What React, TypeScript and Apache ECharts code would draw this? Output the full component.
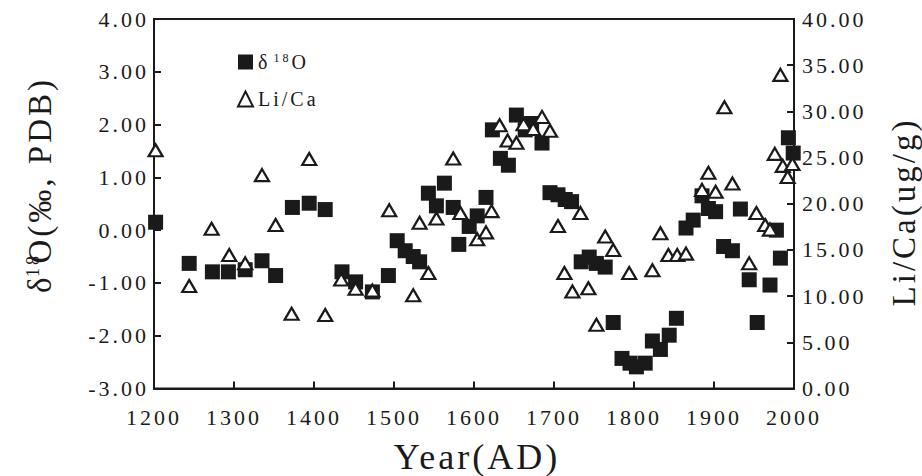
import React, { useEffect, useRef } from "react";
import * as echarts from "echarts";

// δ18O (left axis)
const o18Years = [
  1202, 1244, 1273, 1293, 1314, 1335, 1352, 1373, 1394, 1414, 1435, 1452, 1473,
  1493, 1504, 1514, 1524, 1532, 1543, 1553, 1563, 1574, 1581, 1594, 1604, 1615,
  1623, 1633, 1643, 1653, 1664, 1672, 1685, 1695, 1705, 1714, 1722, 1734, 1744,
  1753, 1764, 1774, 1785, 1795, 1803, 1814, 1823, 1833, 1844, 1853, 1865, 1874,
  1885, 1893, 1902, 1912, 1923, 1933, 1944, 1954, 1970, 1978, 1983, 1993, 1999,
];
const o18Values = [
  0.15, -0.63, -0.79, -0.79, -0.75, -0.58, -0.86, 0.43, 0.51, 0.39, -0.79, -0.98,
  -1.17, -0.86, -0.2, -0.39, -0.5, -0.6, 0.7, 0.46, 0.89, 0.43, -0.27, 0.07, 0.27,
  0.62, 1.9, 1.36, 1.23, 2.18, 1.9, 2.02, 1.65, 0.71, 0.67, 0.58, 0.54, -0.6,
  -0.51, -0.63, -0.7, -1.75, -2.43, -2.52, -2.59, -2.52, -2.1, -2.26, -1.99,
  -1.67, 0.04, 0.19, 0.65, 0.41, 0.35, -0.31, -0.39, 0.4, -0.94, -1.75, -1.04,
  0.0, -0.53, 1.75, 1.46,
];

// Li/Ca (right axis)
const liYears = [
  1202, 1244, 1272, 1294, 1314, 1335, 1352, 1372, 1394, 1414, 1434, 1452, 1473,
  1494, 1524, 1532, 1543, 1553, 1574, 1583, 1604, 1615, 1622, 1632, 1642, 1653,
  1662, 1674, 1685, 1695, 1705, 1713, 1723, 1733, 1743, 1753, 1764, 1774, 1794,
  1823, 1833, 1843, 1854, 1865, 1885, 1893, 1902, 1913, 1923, 1944, 1953, 1964,
  1970, 1976, 1983, 1986, 1992, 1998,
];
const liValues = [
  25.8, 11.1, 17.3, 14.45, 13.55, 23.1, 17.7, 8.1, 24.85, 7.95, 11.8, 10.8, 10.6,
  19.3, 10.1, 17.95, 12.5, 18.4, 24.9, 19.0, 16.15, 16.9, 19.2, 28.5, 26.85,
  26.6, 28.6, 28.1, 29.4, 27.9, 17.6, 12.5, 10.5, 19.0, 10.85, 6.9, 16.45, 15.0,
  12.5, 12.8, 16.8, 14.45, 14.45, 14.6, 21.5, 23.35, 21.3, 30.45, 22.2, 13.55,
  19.0, 17.7, 17.2, 25.4, 33.95, 24.1, 22.9, 24.3,
];

const X_MIN = 1200;
const X_MAX = 2000;
const X_STEP = 100;
const L_MIN = -3;
const L_MAX = 4;
const L_STEP = 1;
const R_MIN = 0;
const R_MAX = 40;
const R_STEP = 5;

const SERIES_O18 = "δ18O";
const SERIES_LI = "Li/Ca";
const X_TITLE = "Year(AD)";
const L_TITLE = "δ{sup|18}{o|O(‰, PDB)}";
const R_TITLE = "Li/Ca(ug/g)";

const INK = "#1a1a1a";
const FONT = "Liberation Serif";

export default function App() {
  const ref = useRef<HTMLDivElement>(null);

  useEffect(() => {
    if (!ref.current) return;
    const chart = echarts.init(ref.current, undefined, { renderer: "svg" });
    const o18Data = o18Years.map((y, i) => [y, o18Values[i]]);
    const liData = liYears.map((y, i) => [y, liValues[i]]);

    const axisCommon = {
      axisLine: { show: true, onZero: false, lineStyle: { color: INK, width: 2 } },
      axisTick: { show: true, inside: true, length: 7, lineStyle: { color: INK, width: 2 } },
      splitLine: { show: false },
    };

    chart.setOption({
      animation: false,
      backgroundColor: "#ffffff",
      grid: {
        left: 154,
        right: 128,
        top: 19,
        bottom: 87.5,
        show: true,
        borderColor: INK,
        borderWidth: 2,
        backgroundColor: "transparent",
        containLabel: false,
        outerBoundsMode: "none",
      },
      legend: {
        orient: "vertical",
        left: 232,
        top: 47,
        itemWidth: 15,
        itemHeight: 15,
        itemGap: 17,
        data: [SERIES_O18, SERIES_LI],
        formatter: (n: string) => (n === SERIES_O18 ? "δ{sup|18}{o|O}" : n),
        textStyle: {
          fontFamily: FONT,
          fontSize: 20,
          color: INK,
          rich: {
            sup: {
              fontFamily: FONT,
              fontSize: 12,
              color: INK,
              verticalAlign: "top",
              padding: [0, 0, 0, 6],
            },
            o: { fontFamily: FONT, fontSize: 20, color: INK, padding: [0, 0, 0, 6] },
          },
        },
      },
      xAxis: {
        type: "value",
        min: X_MIN,
        max: X_MAX,
        interval: X_STEP,
        ...axisCommon,
        axisLabel: {
          margin: 18,
          fontSize: 22,
          fontFamily: FONT,
          color: INK,
          formatter: (v: number) => String(v),
        },
      },
      yAxis: [
        {
          type: "value",
          position: "left",
          min: L_MIN,
          max: L_MAX,
          interval: L_STEP,
          ...axisCommon,
          axisLabel: {
            margin: 5,
            fontSize: 22,
            fontFamily: FONT,
            color: INK,
            formatter: (v: number) => v.toFixed(2),
          },
        },
        {
          type: "value",
          position: "right",
          min: R_MIN,
          max: R_MAX,
          interval: R_STEP,
          ...axisCommon,
          axisLabel: {
            margin: 8,
            fontSize: 22,
            fontFamily: FONT,
            color: INK,
            formatter: (v: number) => v.toFixed(2),
          },
        },
      ],
      series: [
        {
          name: SERIES_O18,
          type: "scatter",
          xAxisIndex: 0,
          yAxisIndex: 0,
          symbol: "rect",
          symbolSize: 15,
          itemStyle: { color: INK, opacity: 1 },
          data: o18Data,
          z: 2,
        },
        {
          name: SERIES_LI,
          type: "scatter",
          xAxisIndex: 0,
          yAxisIndex: 1,
          symbol: "triangle",
          symbolSize: [14, 12],
          itemStyle: { color: "#ffffff", borderColor: INK, borderWidth: 2.2, opacity: 1 },
          data: liData,
          z: 3,
        },
      ],
      graphic: [
        {
          type: "text",
          x: 40,
          y: 191,
          rotation: Math.PI / 2,
          style: {
            text: L_TITLE,
            fontFamily: FONT,
            fontSize: 33,
            fill: INK,
            align: "center",
            verticalAlign: "middle",
            rich: {
              sup: {
                fontFamily: FONT,
                fontSize: 18,
                fill: INK,
                verticalAlign: "top",
                padding: [0, 0, 0, 2],
              },
              o: { fontFamily: FONT, fontSize: 33, fill: INK, padding: [0, 0, 0, 6] },
            },
          },
        },
        {
          type: "text",
          x: 904,
          y: 212,
          rotation: Math.PI / 2,
          style: {
            text: R_TITLE,
            fontFamily: FONT,
            fontSize: 33,
            fill: INK,
            align: "center",
            verticalAlign: "middle",
          },
        },
        {
          type: "text",
          x: 477,
          y: 457,
          style: {
            text: X_TITLE,
            fontFamily: FONT,
            fontSize: 36,
            lineHeight: 36,
            fill: INK,
            align: "center",
            verticalAlign: "middle",
          },
        },
      ],
    });
    return () => chart.dispose();
  }, []);

  return (
    <>
      <style>{"svg text{letter-spacing:3px;}"}</style>
      <div
        ref={ref}
        style={{ position: "absolute", left: 0, top: 0, width: 922, height: 476 }}
      />
    </>
  );
}
